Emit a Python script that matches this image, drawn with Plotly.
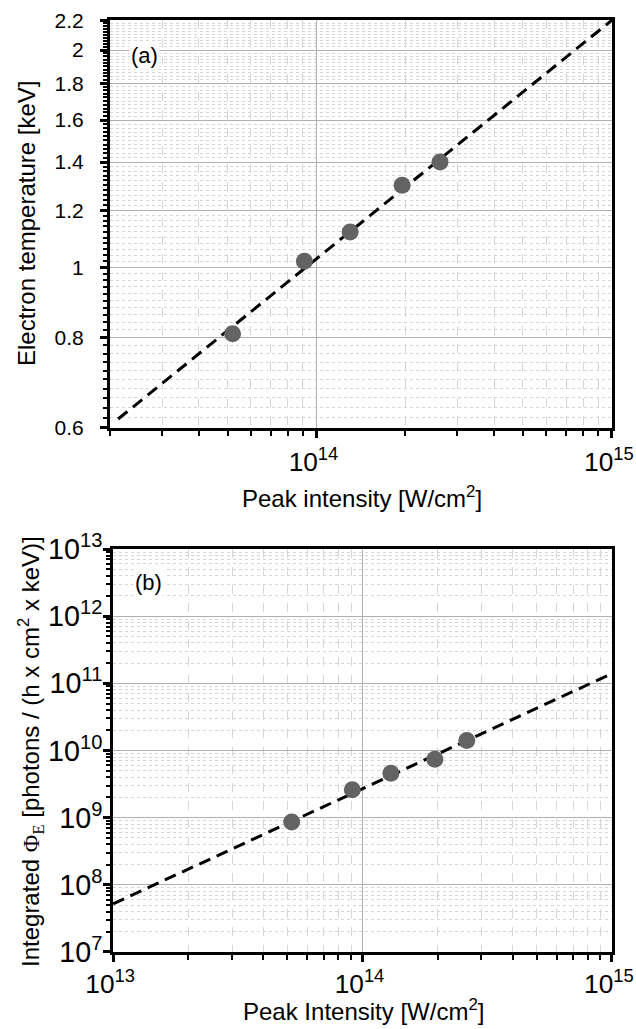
import plotly.graph_objects as go
import numpy as np

# ---- data ----
intensity = [5.2e13, 9.1e13, 1.30e14, 1.95e14, 2.62e14]          # W/cm^2
temperature = [0.81, 1.02, 1.12, 1.30, 1.40]                       # keV
fit_a_x = [2.13e13, 1.0e15]
fit_a_y = [0.617, 2.2]

flux = [8.6e8, 2.6e9, 4.6e9, 7.4e9, 1.41e10]                       # photons/(h cm^2 keV)
fit_b_x = [1.0e13, 1.0e15]
fit_b_y = [5.2e7, 1.4e11]

temp_ticks = [0.6, 0.8, 1.0, 1.2, 1.4, 1.6, 1.8, 2.0, 2.2]
temp_labels = ["0.6", "0.8", "1", "1.2", "1.4", "1.6", "1.8", "2", "2.2"]

FONT = "Arial, 'Liberation Sans', Helvetica, sans-serif"
SERIF = "'Liberation Serif','Times New Roman',serif"
MARK = "#636363"
MAJ_GRID = "#b0b0b0"
MIN_GRID = "#d6d6d6"

fig = go.Figure()

fig.add_trace(go.Scatter(x=fit_a_x, y=fit_a_y, mode="lines",
                         line=dict(color="black", width=3, dash="12px,7px"),
                         xaxis="x", yaxis="y", showlegend=False))
fig.add_trace(go.Scatter(x=intensity, y=temperature, mode="markers",
                         marker=dict(color=MARK, size=17),
                         xaxis="x", yaxis="y", showlegend=False))
fig.add_trace(go.Scatter(x=fit_b_x, y=fit_b_y, mode="lines",
                         line=dict(color="black", width=3, dash="12px,7px"),
                         xaxis="x2", yaxis="y2", showlegend=False))
fig.add_trace(go.Scatter(x=intensity, y=flux, mode="markers",
                         marker=dict(color=MARK, size=17),
                         xaxis="x2", yaxis="y2", showlegend=False))

W, H = 636, 1029
def px(x): return x / W
def py(y): return 1 - y / H

common_axis = dict(
    automargin=False,
    showline=True, linecolor="black", linewidth=3, mirror=True,
    ticks="outside", ticklen=7, tickwidth=3, tickcolor="black",
    showgrid=True, gridcolor=MAJ_GRID, gridwidth=1,
    zeroline=False, ticklabeloverflow="allow",
    tickfont=dict(family=FONT, size=21, color="black"),
)

xminor = dict(dtick="D1", ticks="outside", ticklen=5, tickwidth=2, tickcolor="black",
              showgrid=True, gridcolor=MIN_GRID, griddash="dash", gridwidth=1)

def ann(text, x, y, size=24, angle=0, bg=None):
    d = dict(text=text, x=px(x), y=py(y), xref="paper", yref="paper",
             xanchor="center", yanchor="middle", showarrow=False, textangle=angle,
             font=dict(family=FONT, size=size, color="black"))
    if bg:
        d["bgcolor"] = bg
    return d

fig.update_layout(
    width=W, height=H,
    margin=dict(l=0, r=0, t=0, b=0),
    paper_bgcolor="white", plot_bgcolor="white",
    font=dict(family=FONT, color="black"),
    xaxis=dict(common_axis, type="log", domain=[px(110), px(612)],
               range=[np.log10(2e13), 15.0005], dtick=1, exponentformat="power",
               anchor="y", ticklabelstandoff=3, ticklabelshift=-3, minor=xminor),
    yaxis=dict(common_axis, type="log", domain=[py(428), py(20)],
               range=[np.log10(0.6) - 0.0003, np.log10(2.2) + 0.0003],
               tickvals=temp_ticks, ticktext=temp_labels, anchor="x",
               ticklabelstandoff=12,
               minor=dict(dtick="L0.02", tick0=0.6, ticks="outside", ticklen=4,
                          tickwidth=2, tickcolor="black",
                          showgrid=True, gridcolor=MIN_GRID, griddash="dot", gridwidth=1)),
    xaxis2=dict(common_axis, type="log", domain=[px(113), px(612)],
                range=[12.9995, 15.0005], dtick=1, exponentformat="power",
                anchor="y2", ticklabelstandoff=1, ticklabelshift=-3, minor=xminor),
    yaxis2=dict(common_axis, type="log", domain=[py(952), py(549)],
                range=[6.9995, 13.0005], dtick=1, exponentformat="power",
                anchor="x2", ticklabelstandoff=-4,
                tickfont=dict(family=FONT, size=23, color="black"),
                minor=dict(dtick="D1", ticks="outside", ticklen=4, tickwidth=2, tickcolor="black",
                           showgrid=True, gridcolor=MIN_GRID, griddash="dot", gridwidth=1)),
    annotations=[
        ann("(a)", 144, 56, size=22, bg="white"),
        ann("(b)", 148, 582, size=22, bg="white"),
        ann("Peak intensity [W/cm<sup>2</sup>]", 362, 497),
        ann("Peak Intensity [W/cm<sup>2</sup>]", 363, 1010),
        ann("Electron temperature [keV]", 26, 224, angle=-90),
        ann("Integrated <span style=\"font-family:" + SERIF + "\">Φ<sub>E</sub></span>"
            " [photons / (h x cm<sup>2</sup> x keV)]", 31, 752, angle=-90),
    ],
)

fig.write_html("out.html",
               config={"displayModeBar": False},
               post_script="document.body.style.margin='0px';document.body.style.overflow='hidden';")
